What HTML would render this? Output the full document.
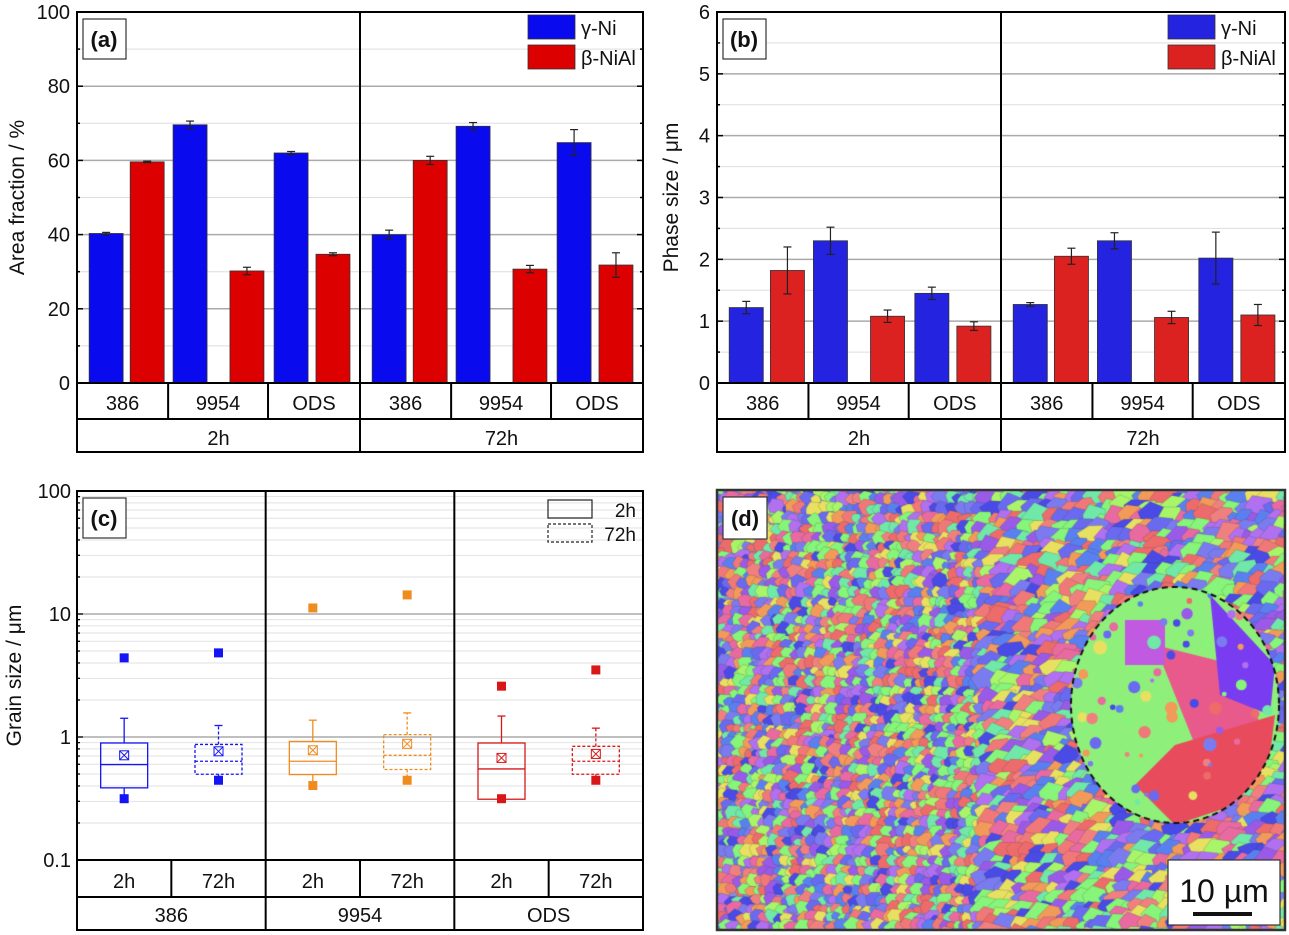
<!DOCTYPE html>
<html><head><meta charset="utf-8"><style>
html,body{margin:0;padding:0;background:#fff;}
#wrap{position:relative;width:1289px;height:935px;overflow:hidden;}
svg{position:absolute;left:0;top:0;}
text{font-family:"Liberation Sans",sans-serif;}
</style></head><body>
<div id="wrap">
<canvas id="ebsd" width="568" height="440" style="position:absolute;left:717px;top:490px;"></canvas>
<svg id="fig" width="1289" height="935"></svg>
</div>
<script>
// ---------- data ----------
const groupsAB = ["2h","72h"];
const alloys = ["386","9954","ODS"];
const seriesNames = ["γ-Ni","β-NiAl"];
// panel a: area fraction (per group, per alloy)
const aGamma = [40.3,69.6,62.0, 40.0,69.2,64.8];
const aGammaErr = [0.3,1.0,0.4, 1.2,1.0,3.5];
const aBeta = [59.6,30.2,34.7, 60.0,30.7,31.8];
const aBetaErr = [0.2,1.0,0.4, 1.1,1.0,3.3];
const aTicks = [0,20,40,60,80,100];
// panel b: phase size
const bGamma = [1.22,2.30,1.45, 1.27,2.30,2.02];
const bGammaErr = [0.10,0.22,0.10, 0.03,0.13,0.42];
const bBeta = [1.82,1.08,0.92, 2.05,1.06,1.10];
const bBetaErr = [0.38,0.10,0.07, 0.13,0.10,0.17];
const bTicks = [0,1,2,3,4,5,6];
// panel c: grain size boxes (386 2h, 386 72h, 9954 2h, 9954 72h, ODS 2h, ODS 72h)
const cAlloys = ["386","9954","ODS"];
const cTimes = ["2h","72h"];
const cQ1 = [0.386,0.498,0.495,0.544,0.312,0.498];
const cQ3 = [0.894,0.87,0.92,1.045,0.894,0.84];
const cMedian = [0.597,0.635,0.635,0.71,0.55,0.635];
const cMean = [0.71,0.765,0.78,0.88,0.676,0.728];
const cWhiskTop = [1.42,1.24,1.37,1.57,1.48,1.18];
const cMax = [4.4,4.83,11.2,14.3,2.59,3.51];
const cMin = [0.315,0.445,0.403,0.445,0.315,0.445];
const cTicks = [0.1,1,10,100];
const cTickLabels = ["0.1","1","10","100"];

// ---------- helpers ----------
const NS="http://www.w3.org/2000/svg";
const svg=document.getElementById('fig');
function el(tag,attrs,parent,txt){const e=document.createElementNS(NS,tag);for(const k in attrs)e.setAttribute(k,attrs[k]);if(txt!==undefined)e.textContent=txt;(parent||svg).appendChild(e);return e;}
function line(x1,y1,x2,y2,st,w,p,dash){const a={x1,y1,x2,y2,stroke:st,'stroke-width':w};if(dash)a['stroke-dasharray']=dash;return el('line',a,p);}
function txt(x,y,s,size,anchor,p,extra){const a={x,y,'font-size':size,'text-anchor':anchor||'middle',fill:'#111'};Object.assign(a,extra||{});return el('text',a,p,s);}

// ---------- bar panel ----------
function barPanel(id,L,R,T,B,max,ticks,gam,gErr,bet,bErr,gCol,bCol,title,letter,legX,titleX){
  const g=el('g',{});  
  const y=v=>B-(v/max)*(B-T);
  const minorStep=(ticks[1]-ticks[0])/2;
  for(let v=minorStep;v<=max+1e-9;v+=minorStep){
    const isMaj=ticks.some(t=>Math.abs(t-v)<1e-9);
    line(L,y(v),R,y(v),isMaj?'#aaa':'#ddd',isMaj?1.5:1,g);
    line(L,y(v),L+(isMaj?6:3),y(v),'#000',1.5,g);line(R,y(v),R-(isMaj?6:3),y(v),'#000',1.5,g);}
  ticks.forEach(t=>{const tl=txt(L-7,y(t)+7,String(t),20,'end',g);});
  const mid=(L+R)/2, gw=(R-L)/2;
  const catEdges=[0,0.322,0.675,1];
  const offs=[[-0.058,0.087],[-0.099,0.102],[-0.081,0.067]];
  const bw=gw*0.12;
  for(let gi=0;gi<2;gi++){
    const gx=L+gi*gw;
    for(let ai=0;ai<3;ai++){
      const cx0=gx+catEdges[ai]*gw, cx1=gx+catEdges[ai+1]*gw, cc=(cx0+cx1)/2;
      const idx=gi*3+ai;
      [[gam,gErr,gCol,0,'gamma'],[bet,bErr,bCol,1,'beta']].forEach(([vals,errs,col,s,nm])=>{
        const bcx=cc+offs[ai][s]*gw, bx=bcx-bw/2;
        const v=vals[idx];
        const r=el('rect',{x:bx,y:y(v),width:bw,height:B-y(v),fill:col,stroke:'#333','stroke-width':0.8},g);
        
        
        const e=errs[idx];
        line(bcx,y(v+e),bcx,y(v-e),'#222',1.2,g);
        line(bcx-4,y(v+e),bcx+4,y(v+e),'#222',1.2,g);line(bcx-4,y(v-e),bcx+4,y(v-e),'#222',1.2,g);
      });
      if(ai>0)line(cx0,B,cx0,B+36,'#000',2,g);
      const ct=txt(cc,B+27,alloys[ai],20,'middle',g);
      
    }
    const gt=txt(gx+gw/2,B+62,groupsAB[gi],20,'middle',g);
    
  }
  line(mid,T,mid,B+69,'#000',2,g);
  el('rect',{x:L,y:T,width:R-L,height:B+69-T,fill:'none',stroke:'#000','stroke-width':2},g);
  line(L,B,R,B,'#000',2,g);line(L,B+36,R,B+36,'#000',2,g);
  const yt=txt(0,0,title,21,'middle',g,{transform:`translate(${titleX},${(T+B)/2}) rotate(-90)`});
  
  const lb=el('rect',{x:L+6,y:T+7,width:43,height:40,fill:'#fff',stroke:'#333','stroke-width':1.2},g);
  
  txt(L+27,T+35,letter,22,'middle',g,{'font-weight':'bold'});
  [[gCol,seriesNames[0]],[bCol,seriesNames[1]]].forEach(([c,n],i)=>{
    const lr=el('rect',{x:legX,y:T+3+i*30,width:47,height:24,fill:c,stroke:'#333','stroke-width':0.8},g);
    
    const lt=txt(legX+53,T+23+i*30,n,20,'start',g);
    
  });
}
barPanel('panel-a-area-fraction',77,643,12,383,100,aTicks,aGamma,aGammaErr,aBeta,aBetaErr,'#0a0aef','#dd0000','Area fraction / %','(a)',528,24);
barPanel('panel-b-phase-size',717,1285,12,383,6,bTicks,bGamma,bGammaErr,bBeta,bBetaErr,'#2323e0','#dc2121','Phase size / μm','(b)',1168,678);

// ---------- panel c ----------
(function(){
  const L=77,R=643,T=491,B=860;
  const g=el('g',{});  
  const y=v=>B-(Math.log10(v)+1)/3*(B-T);
  for(let d=-1;d<2;d++)for(let m=1;m<10;m++){const v=m*Math.pow(10,d);if(m===1&&d===-1)continue;
    line(L,y(v),R,y(v),m===1?'#999':'#e2e2e2',m===1?1.3:1,g);
    line(L,y(v),L+(m===1?6:3),y(v),'#000',1.3,g);}
  cTicks.forEach((t,i)=>{const tl=txt(L-6,y(t)+7,cTickLabels[i],20,'end',g);});
  const cols=['#1414f5','#f08c1e','#d81818'];
  const gw=(R-L)/3;
  for(let a=0;a<3;a++){
    const gx=L+a*gw;
    for(let t=0;t<2;t++){
      const i=a*2+t, cx0=gx+t*gw/2, cc=cx0+gw/4, col=cols[a], dash=t?'3,2':null, bw=47;
      const bx=g.appendChild(document.createElementNS(NS,'g'));
      
      
      line(cc,y(cQ3[i]),cc,y(cWhiskTop[i]),col,1.3,bx,dash);
      line(cc-4,y(cWhiskTop[i]),cc+4,y(cWhiskTop[i]),col,1.3,bx);
      line(cc,y(cQ1[i]),cc,y(cMin[i]),col,1.3,bx,dash);
      el('rect',{x:cc-bw/2,y:y(cQ3[i]),width:bw,height:y(cQ1[i])-y(cQ3[i]),fill:'none',stroke:col,'stroke-width':1.3,...(dash?{'stroke-dasharray':dash}:{})},bx);
      line(cc-bw/2,y(cMedian[i]),cc+bw/2,y(cMedian[i]),col,1.3,bx,dash);
      const my=y(cMean[i]);
      el('rect',{x:cc-4.5,y:my-4.5,width:9,height:9,fill:'none',stroke:col,'stroke-width':1},bx);
      line(cc-4.5,my-4.5,cc+4.5,my+4.5,col,1,bx);line(cc+4.5,my-4.5,cc-4.5,my+4.5,col,1,bx);
      [cMax[i],cMin[i]].forEach(v=>el('rect',{x:cc-4.5,y:y(v)-4.5,width:9,height:9,fill:col},bx));
      if(t)line(cx0,B,cx0,B+37,'#000',2,g);
      const ct=txt(cc,B+28,cTimes[t],20,'middle',g);
    }
    if(a)line(gx,T,gx,B+70,'#000',2,g);
    const gt=txt(gx+gw/2,B+62,cAlloys[a],20,'middle',g);
  }
  el('rect',{x:L,y:T,width:R-L,height:B+70-T,fill:'none',stroke:'#000','stroke-width':2},g);
  line(L,B,R,B,'#000',2,g);line(L,B+37,R,B+37,'#000',2,g);
  const yt=txt(0,0,'Grain size / μm',21,'middle',g,{transform:`translate(${L-56},${(T+B)/2}) rotate(-90)`});
  
  const lb=el('rect',{x:L+6,y:T+7,width:43,height:40,fill:'#fff',stroke:'#333','stroke-width':1.2},g);
  
  txt(L+27,T+35,'(c)',22,'middle',g,{'font-weight':'bold'});
  const l1=el('rect',{x:548,y:500,width:44,height:18,fill:'none',stroke:'#222','stroke-width':1.2},g);
  
  const l2=el('rect',{x:548,y:524,width:44,height:18,fill:'none',stroke:'#222','stroke-width':1.2,'stroke-dasharray':'3,2'},g);
  
  const lt1=txt(636,517,'2h',19,'end',g);
  const lt2=txt(636,541,'72h',19,'end',g);
})();

// ---------- panel d (EBSD-like mosaic, decorative) ----------
(function(){
  const c=document.getElementById('ebsd'),x=c.getContext('2d');
  let s=12345;const rnd=()=>{s=(s*1103515245+12345)%2147483648;return s/2147483648;};
  const pal=['#86f57a','#86f57a','#7b7bf0','#ee6b6b','#e86aa0','#9a5ae8','#f29a5a','#5a80f0','#a8f56a','#f07878','#4a4ae6','#b070f0','#70e8a8','#e8e060','#f08080','#6a6af0'];
  x.fillStyle='#8c8cd8';x.fillRect(0,0,568,440);
  x.strokeStyle='rgba(60,60,60,0.35)';x.lineWidth=0.6;
  for(let py=-6;py<450;){
    const step=7+rnd()*4;
    for(let px=-6;px<580;){
      const sz=(px<260?6:10)+rnd()*(px<260?6:10);
      const cx=px+sz/2+(rnd()-0.5)*4, cy=py+step/2+(rnd()-0.5)*4;
      x.fillStyle=pal[Math.floor(rnd()*pal.length)];
      x.beginPath();const n=6;
      for(let j=0;j<n;j++){const a=j/n*6.283+rnd()*0.4,r=sz*(0.65+rnd()*0.3);x.lineTo(cx+Math.cos(a)*r,cy+Math.sin(a)*r*0.9);}
      x.closePath();x.fill();x.stroke();
      px+=sz*0.8;
    }
    py+=step;
  }
  const ex=458,ey=215;
  x.save();x.beginPath();x.ellipse(ex,ey,104,118,0,0,6.283);x.clip();
  x.fillStyle='#8ef07a';x.fillRect(ex-110,ey-120,220,240);
  x.fillStyle='#e85a8c';x.beginPath();x.moveTo(ex-20,ey-60);x.lineTo(ex+60,ey-40);x.lineTo(ex+90,ey+30);x.lineTo(ex+20,ey+40);x.closePath();x.fill();
  x.fillStyle='#7a3cf0';x.beginPath();x.moveTo(ex+35,ey-110);x.lineTo(ex+100,ey-40);x.lineTo(ex+95,ey+10);x.lineTo(ex+45,ey-10);x.closePath();x.fill();
  x.fillStyle='#e84c5c';x.beginPath();x.moveTo(ex,ey+40);x.lineTo(ex+100,ey+10);x.lineTo(ex+90,ey+90);x.lineTo(ex,ey+120);x.lineTo(ex-40,ey+80);x.closePath();x.fill();
  x.fillStyle='#c05ae0';x.fillRect(ex-50,ey-85,40,45);
  for(let k=0;k<60;k++){x.fillStyle=pal[Math.floor(rnd()*pal.length)];x.beginPath();x.arc(ex+(rnd()-0.5)*200,ey+(rnd()-0.5)*230,2+rnd()*5,0,6.283);x.fill();}
  x.restore();
  x.setLineDash([6,4]);x.strokeStyle='#111';x.lineWidth=2;x.beginPath();x.ellipse(ex,ey,104,118,0,0,6.283);x.stroke();
})();
(function(){
  const g=el('g',{});  
  el('rect',{x:717,y:490,width:568,height:440,fill:'none',stroke:'#333','stroke-width':2.5},g);
  const lb=el('rect',{x:723,y:497,width:44,height:42,fill:'#fff',stroke:'#333','stroke-width':1.2},g);
  
  txt(745,526,'(d)',22,'middle',g,{'font-weight':'bold'});
  const sb=el('rect',{x:1168,y:860,width:112,height:65,fill:'#fff',stroke:'#333','stroke-width':1.2},g);
  
  const st=txt(1224,902,'10 µm',32,'middle',g);
  line(1193,914,1252,914,'#111',4,g);
})();
</script>
</body></html>
